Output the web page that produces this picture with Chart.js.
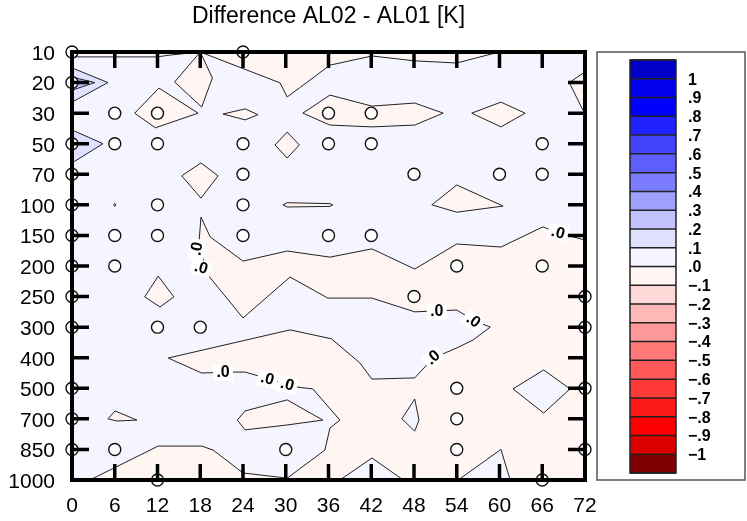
<!DOCTYPE html>
<html>
<head>
<meta charset="utf-8">
<script src="https://cdn.jsdelivr.net/npm/chart.js@4.4.1/dist/chart.umd.min.js"></script>
<style>
  html, body { margin: 0; padding: 0; background: #fff; }
  canvas { display: block; }
</style>
</head>
<body>
<canvas id="diff" width="747" height="521"></canvas>
<script>
// pressure levels (hPa), plotted top to bottom by index
const levels = ['10', '20', '30', '50', '70', '100', '150', '200', '250', '300', '400', '500', '700', '850', '1000'];

// forecast hours that have an observation, one list per level
const obsHours = [
  [0, 24],
  [0],
  [6, 12, 36, 42],
  [0, 6, 12, 24, 36, 42, 66],
  [0, 24, 48, 60, 66],
  [0, 12, 24],
  [0, 6, 12, 24, 36, 42],
  [0, 6, 54, 66],
  [0, 48, 72],
  [0, 12, 18, 72],
  [],
  [0, 54, 72],
  [0, 54],
  [0, 6, 30, 54, 72],
  [12, 66]
];

// contour areas as [hour, level index]
// 0 .. -0.1 K
const negMain = [
  [2.5, 14], [12.1, 12.89], [18.2, 12.89], [19.8, 13.02], [24, 13.77], [30.2, 13.94],
  [35.5, 13.02], [36.2, 12.3], [37.6, 12.04], [33.8, 11.02], [31.6, 10.96], [24.3, 10.47],
  [22.5, 10.47], [18.2, 10.5], [13.5, 10.01], [30.6, 9.09], [36.4, 9.38], [40.4, 10.17],
  [42.1, 10.7], [48.1, 10.66], [50.7, 10.01], [54, 9.68], [56.3, 9.42], [58.7, 9.0],
  [56.3, 8.77], [54, 8.44], [48.1, 8.5], [42.1, 8.05], [35.9, 8.05], [30.6, 7.36],
  [24, 8.7], [19.1, 7.3], [17.8, 6.31], [18.1, 5.4], [19.4, 6.05], [24, 6.84],
  [30.2, 6.51], [36.2, 6.71], [42.1, 6.44], [48.1, 7.1], [54, 6.28], [60.2, 6.38],
  [66.1, 5.72], [68.2, 5.92], [72, 6.15], [72, 14]
];
const negTopStrip = [[0, 0], [0, 0.16], [11.9, 0.16], [13.8, 0.1], [18, 0]];
const negTopBand = [
  [18, 0], [29.2, 1.01], [30.2, 1.47], [31.9, 1.18], [36.2, 0.43], [42.1, 0.13],
  [48.1, 0.29], [54, 0.36], [58.3, 0.1], [60, 0]
];
const negSmall = [
  [[18, 0], [19.7, 0.85], [18.2, 1.8], [14.4, 0.98]],
  [[8.8, 2.0], [12.2, 1.18], [17.7, 2.0], [11.7, 2.48]],
  [[21.2, 2.03], [24.3, 1.86], [26.1, 2.05], [24.3, 2.22]],
  [[28.5, 3.04], [30.2, 2.62], [31.9, 3.04], [30.2, 3.47]],
  [[32.4, 2.0], [36.2, 1.41], [42.1, 1.77], [48.1, 1.67], [52.1, 2.0], [48.1, 2.39], [42.1, 2.45], [36.2, 2.39]],
  [[56.1, 2.0], [60.2, 1.64], [63.6, 2.0], [60.2, 2.45]],
  [[72, 0.65], [69.8, 1.0], [71.7, 1.9], [72, 1.95]],
  [[18.1, 3.63], [20.5, 4.05], [18.1, 4.78], [15.4, 4.05]],
  [[5.85, 5], [6, 4.95], [6.15, 5], [6, 5.05]],
  [[29.6, 5.0], [30.2, 4.93], [36.2, 4.96], [36.6, 5.0], [36.2, 5.05], [30.2, 5.07]],
  [[50.5, 5.0], [54, 4.35], [60.5, 5.04], [54, 5.24]],
  [[10.2, 8.01], [12.1, 7.33], [14.3, 8.01], [12.35, 8.34]],
  [[23.2, 12.04], [24.3, 11.74], [30.2, 11.38], [35.2, 12.04], [30.2, 12.2], [24.3, 12.36]],
  [[5.05, 12.0], [6.04, 11.74], [9.1, 12.04], [6.3, 12.07]]
];
// 0 .. +0.1 K pockets inside the negative area
const posHoles = [
  [[37.6, 14], [42.1, 13.28], [46.5, 14]],
  [[54.2, 14], [60.2, 13.0], [61.5, 14]],
  [[61.9, 11.02], [66.2, 10.4], [69.9, 11.02], [66.2, 11.81]],
  [[46.3, 12.0], [48.1, 11.35], [48.7, 12.04], [48.1, 12.4]]
];
// +0.1 .. +0.2 K and +0.2 .. +0.3 K
const pos01 = [
  [[0, 0.52], [5.05, 1.0], [0, 1.64]],
  [[0, 2.55], [4.35, 3.0], [0, 3.63]]
];
const pos02 = [[[0, 0.82], [3.2, 1.0], [0, 1.25]]];

// zero-line labels: [hour, level index, angle in degrees]
const zeroLabels = [
  [17.55, 6.44, -80], [18.1, 7.07, 15], [68.2, 5.92, 15], [51.2, 8.5, 0], [56.3, 8.8, 35],
  [50.7, 10.0, -40], [21.2, 10.5, 0], [27.4, 10.7, 15], [30.2, 10.89, 15]
];

// colour scale, top (> 1) to bottom (< -1)
const scaleTicks = ['1', '.9', '.8', '.7', '.6', '.5', '.4', '.3', '.2', '.1', '.0',
  '\u2212.1', '\u2212.2', '\u2212.3', '\u2212.4', '\u2212.5', '\u2212.6', '\u2212.7', '\u2212.8', '\u2212.9', '\u22121'];
const scaleColors = ['#0000c8', '#0000ee', '#0000ff', '#2222ff', '#4444ff', '#5e5eff', '#7c7cff', '#a0a0ff',
  '#c2c2ff', '#e0e0ff', '#f5f5ff', '#fff5f3', '#ffd8d8', '#ffb8b8', '#ff9999', '#ff7878', '#ff5858',
  '#ff3838', '#ff1a1a', '#ff0000', '#dc0000', '#7c0000'];

const FONT = "'Liberation Sans', Arial, Helvetica, sans-serif";
const posFill = scaleColors[10];
const negFill = scaleColors[11];

function area(pts, color, order) {
  return {
    type: 'line',
    data: pts.concat([pts[0]]).map(([x, y]) => ({ x, y })),
    fill: 'shape',
    backgroundColor: color,
    borderColor: '#222',
    borderWidth: 1,
    pointRadius: 0,
    pointHoverRadius: 0,
    tension: 0,
    order
  };
}

const sites = [];
obsHours.forEach((hrs, i) => hrs.forEach(h => sites.push({ x: h, y: i })));

const datasets = [
  {
    type: 'scatter',
    data: sites,
    pointRadius: 6,
    pointBorderWidth: 1.4,
    pointBackgroundColor: '#fff',
    pointBorderColor: '#111',
    clip: false,
    order: 0
  },
  area(negMain, negFill, 10),
  area(negTopStrip, negFill, 10),
  area(negTopBand, negFill, 10),
  ...posHoles.map(p => area(p, posFill, 9)),
  ...negSmall.map(p => area(p, negFill, 8)),
  ...pos01.map(p => area(p, scaleColors[9], 8)),
  ...pos02.map(p => area(p, scaleColors[8], 7))
];

const framePlugin = {
  id: 'frame',
  beforeDatasetsDraw(chart) {
    const { ctx, chartArea: a } = chart;
    ctx.save();
    ctx.fillStyle = posFill;
    ctx.fillRect(a.left, a.top, a.width, a.height);
    ctx.restore();
  },
  afterDatasetsDraw(chart) {
    const { ctx, chartArea: a, scales: { x, y } } = chart;
    ctx.save();
    // labels on the zero line
    ctx.font = 'bold 16px ' + FONT;
    ctx.textAlign = 'center';
    ctx.textBaseline = 'middle';
    zeroLabels.forEach(([h, lv, ang]) => {
      ctx.save();
      ctx.translate(x.getPixelForValue(h), y.getPixelForValue(lv));
      ctx.rotate(ang * Math.PI / 180);
      ctx.fillStyle = '#fff';
      ctx.fillRect(-10, -8, 20, 16);
      ctx.fillStyle = '#000';
      ctx.fillText('.0', 0, 0);
      ctx.restore();
    });
    // heavy frame with inward ticks
    ctx.strokeStyle = '#000';
    ctx.lineWidth = 4;
    ctx.strokeRect(a.left, a.top, a.width, a.height);
    ctx.lineWidth = 3.5;
    ctx.beginPath();
    x.ticks.forEach(t => {
      const px = x.getPixelForValue(t.value);
      ctx.moveTo(px, a.top); ctx.lineTo(px, a.top + 16);
      ctx.moveTo(px, a.bottom); ctx.lineTo(px, a.bottom - 16);
    });
    y.ticks.forEach(t => {
      const py = y.getPixelForValue(t.value);
      ctx.moveTo(a.left, py); ctx.lineTo(a.left + 17, py);
      ctx.moveTo(a.right, py); ctx.lineTo(a.right - 17, py);
    });
    ctx.stroke();
    ctx.restore();
  }
};

const colorbarPlugin = {
  id: 'colorbar',
  afterDraw(chart) {
    const { ctx, chartArea: a } = chart;
    const boxL = a.right + 12, boxR = chart.width - 2;
    ctx.save();
    ctx.strokeStyle = '#555';
    ctx.lineWidth = 1.5;
    ctx.strokeRect(boxL, a.top, boxR - boxL, a.height);

    const barL = a.right + 45, barW = 46;
    const barT = a.top + 8, barH = a.height - 15;
    const step = barH / scaleColors.length;
    scaleColors.forEach((c, i) => {
      ctx.fillStyle = c;
      ctx.fillRect(barL, barT + i * step, barW, step);
    });
    ctx.strokeStyle = '#222';
    ctx.lineWidth = 1.5;
    for (let i = 0; i <= scaleColors.length; i++) {
      ctx.beginPath();
      ctx.moveTo(barL, barT + i * step);
      ctx.lineTo(barL + barW, barT + i * step);
      ctx.stroke();
    }
    ctx.strokeRect(barL, barT, barW, barH);

    ctx.fillStyle = '#000';
    ctx.font = 'bold 16px ' + FONT;
    ctx.textAlign = 'left';
    ctx.textBaseline = 'middle';
    scaleTicks.forEach((s, i) => {
      ctx.fillText(s, barL + 58, barT + (i + 1) * step + 1.5);
    });
    ctx.restore();
  }
};

new Chart(document.getElementById('diff'), {
  type: 'scatter',
  data: { datasets },
  options: {
    responsive: false,
    animation: false,
    events: [],
    layout: { padding: { left: 0, right: 162, top: 0, bottom: 0 } },
    plugins: {
      legend: { display: false },
      tooltip: { enabled: false },
      title: {
        display: true,
        fullSize: false,
        text: 'Difference AL02 - AL01 [K]',
        color: '#000',
        font: { family: FONT, size: 23, weight: 'normal', lineHeight: 1.2 },
        padding: { top: 3, bottom: 21.4 }
      }
    },
    scales: {
      x: {
        type: 'linear',
        min: 0,
        max: 72,
        grid: { display: false, drawTicks: false },
        border: { display: false },
        ticks: {
          stepSize: 6,
          autoSkip: false,
          maxRotation: 0,
          padding: 14,
          color: '#000',
          font: { family: FONT, size: 21 }
        },
        afterFit(s) { s.height = 41; }
      },
      y: {
        type: 'linear',
        min: 0,
        max: levels.length - 1,
        reverse: true,
        grid: { display: false, drawTicks: false },
        border: { display: false },
        ticks: {
          stepSize: 1,
          autoSkip: false,
          padding: 17,
          labelOffset: 2,
          color: '#000',
          font: { family: FONT, size: 21 },
          callback: v => levels[v]
        },
        afterFit(s) { s.width = 72; }
      }
    }
  },
  plugins: [framePlugin, colorbarPlugin]
});
</script>
</body>
</html>
